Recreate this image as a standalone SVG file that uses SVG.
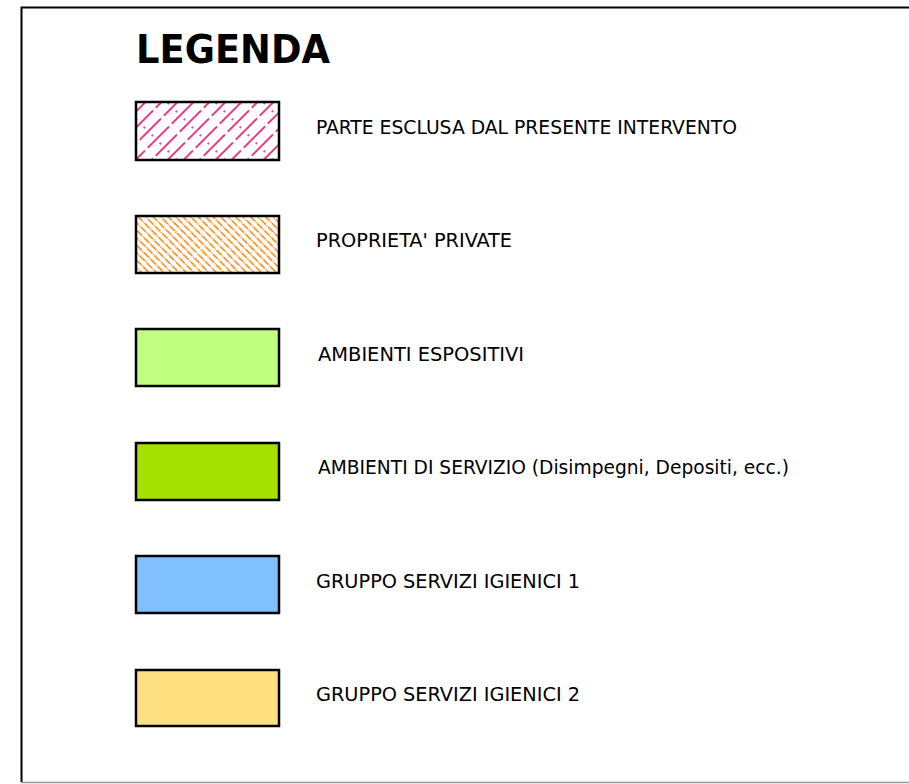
<svg xmlns="http://www.w3.org/2000/svg" width="909" height="784" viewBox="0 0 909 784">
<style>
.box{stroke:#000;stroke-width:2.5}
.lbl{font-family:"DejaVu Sans Condensed","DejaVu Sans",sans-serif;font-size:19px;fill:#000}
.title{font-family:"DejaVu Sans","Liberation Sans",sans-serif;font-weight:bold;font-size:39px;fill:#000}
</style>
<defs>
<pattern id="hatchMag" patternUnits="userSpaceOnUse" width="34" height="11.3" patternTransform="rotate(-45)">
<rect width="34" height="11.3" fill="#fff"/>
<line x1="0" y1="5.6" x2="30" y2="5.6" stroke="#e0157a" stroke-width="1.6"/>
<circle cx="12" cy="0.3" r="0.9" fill="#e0157a"/>
<circle cx="12" cy="11.3" r="0.9" fill="#e0157a"/>
</pattern>
<pattern id="hatchOr" patternUnits="userSpaceOnUse" width="10" height="5.3" patternTransform="rotate(45)">
<rect width="10" height="5.3" fill="#fff"/>
<line x1="0" y1="2.6" x2="7" y2="2.6" stroke="#ff8a10" stroke-width="1.6"/>
<circle cx="8.6" cy="2.6" r="0.8" fill="#ff8a10"/>
</pattern>
</defs>
<g id="frame">
<path d="M21.5 782 V7.5 H909" fill="none" stroke="#000" stroke-width="2"/>
<path d="M21 782.5 H909" fill="none" stroke="#999" stroke-width="1.5"/>
</g>
<g id="title"><text class="title" x="136" y="63" textLength="194" lengthAdjust="spacingAndGlyphs">LEGENDA</text></g>
<g id="item1">
<rect class="box" x="136" y="102" width="143" height="58" fill="url(#hatchMag)"/>
<text class="lbl" x="316" y="134" textLength="421" lengthAdjust="spacingAndGlyphs">PARTE ESCLUSA DAL PRESENTE INTERVENTO</text>
</g>
<g id="item2">
<rect class="box" x="136" y="216" width="143" height="57" fill="url(#hatchOr)"/>
<text class="lbl" x="316" y="247" textLength="196" lengthAdjust="spacingAndGlyphs">PROPRIETA' PRIVATE</text>
</g>
<g id="item3">
<rect class="box" x="136" y="329" width="143" height="57" fill="#c0ff80"/>
<text class="lbl" x="318" y="361" textLength="206" lengthAdjust="spacingAndGlyphs">AMBIENTI ESPOSITIVI</text>
</g>
<g id="item4">
<rect class="box" x="136" y="443" width="143" height="57" fill="#a6e000"/>
<text class="lbl" x="318" y="474" textLength="471" lengthAdjust="spacingAndGlyphs">AMBIENTI DI SERVIZIO (Disimpegni, Depositi, ecc.)</text>
</g>
<g id="item5">
<rect class="box" x="136" y="556" width="143" height="57" fill="#80c0ff"/>
<text class="lbl" x="316" y="588" textLength="264" lengthAdjust="spacingAndGlyphs">GRUPPO SERVIZI IGIENICI 1</text>
</g>
<g id="item6">
<rect class="box" x="136" y="670" width="143" height="56" fill="#ffe080"/>
<text class="lbl" x="316" y="701" textLength="264" lengthAdjust="spacingAndGlyphs">GRUPPO SERVIZI IGIENICI 2</text>
</g>
</svg>
